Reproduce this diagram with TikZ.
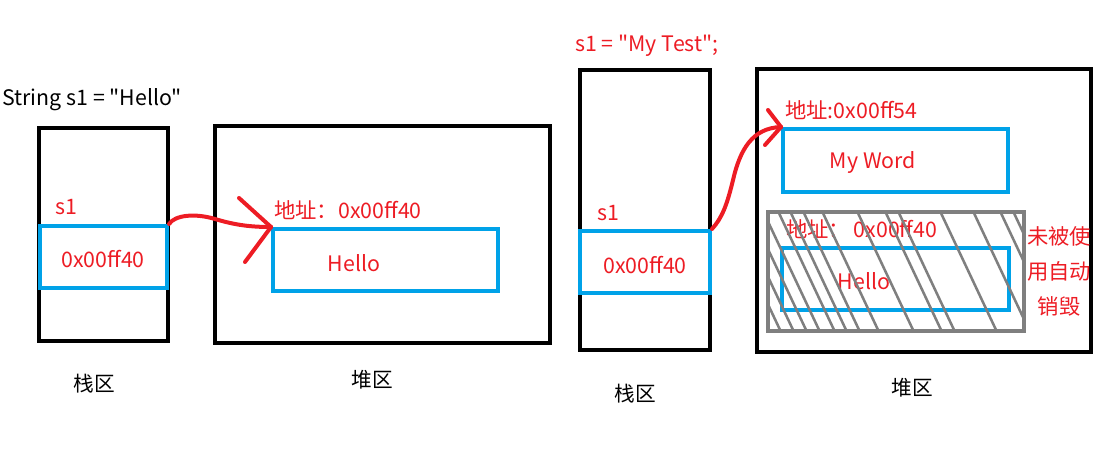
\documentclass[tikz,border=0pt]{standalone}
\usepackage{fontspec}
\setmainfont{Noto Sans CJK SC}[Ligatures=TeXOff]
\usetikzlibrary{fit}
\definecolor{pred}{HTML}{ED1C24}
\definecolor{pblue}{HTML}{00A2E8}
\definecolor{pgray}{HTML}{7F7F7F}
\begin{document}
\begin{tikzpicture}[x=0.75pt,y=-0.75pt,
  frame/.style={draw=black,line width=3pt,inner sep=0pt},
  cell/.style={draw=pblue,line width=3pt,inner sep=0pt},
  freed/.style={draw=pgray,line width=2.3pt,inner sep=0pt},
  hatch/.style={draw=pgray,line width=1.9pt},
  ptr/.style={draw=pred,line width=3pt,line cap=round,line join=round},
  redtxt/.style={text=pred,font=\fontsize{16}{19}\selectfont,inner sep=0pt},
  blktxt/.style={text=black,font=\fontsize{16}{19}\selectfont,inner sep=0pt},
  cjktxt/.style={font=\fontsize{15.5}{18}\selectfont,inner sep=0pt}]
\useasboundingbox (0,0) rectangle (1111,463);

% ---------- left: String s1 = "Hello" ----------
\node[blktxt,anchor=west] (code1) at (2,100) {String s1 = "Hello"};
\node[frame,fit={(39,128) (168,341)}] (stack1) {};
\node[frame,fit={(215,126) (550,343)}] (heap1) {};
\node[cell,fit={(40,226) (167,288)}] (ref1) {};
\node[cell,fit={(273,229) (498,291)}] (obj1) {};
\node[redtxt] (s1a) at (66,207) {s1};
\node[redtxt] (val1) at (103,259) {0x00ff40};
\node[redtxt,anchor=west] (addr1) at (274,210) {地址：0x00ff40};
\node[redtxt] (hello1) at (354,263) {Hello};
\node[cjktxt] (lbl1) at (94,384) {栈区};
\node[cjktxt] (lbl2) at (372,380) {堆区};

% pointer from the stack slot to the heap object
\draw[ptr] (ref1.north east) .. controls (175,215) and (195,213) .. (215,219)
  .. controls (235,225) and (250,227) .. (obj1.north west);
\draw[ptr] (obj1.north west) -- (239,198);
\draw[ptr] (obj1.north west) -- (245,262);

% ---------- right: s1 = "My Test"; ----------
\node[redtxt,anchor=west] (code2) at (575,46) {s1 = "My Test";};
\node[frame,fit={(580,70) (710,350)}] (stack2) {};
\node[frame,fit={(757,69) (1091,352)}] (heap2) {};
\node[cell,fit={(580,231) (710,293)}] (ref2) {};
\node[cell,fit={(783,129) (1008,192)}] (obj2) {};
\node[redtxt] (s1b) at (608,213) {s1};
\node[redtxt] (val2) at (645,265) {0x00ff40};
\node[redtxt,anchor=west] (addr2) at (785,110) {地址:0x00ff54};
\node[redtxt] (word) at (873,163) {My Word};

% the old object, no longer referenced
\node[freed,fit={(768,212) (1024,331)}] (old) {};
\node[cell,fit={(782,248) (1009,310)}] (obj3) {};
\node[redtxt,anchor=west] (addr3) at (786,229) {地址：\,0x00ff40};
\node[redtxt] (hello2) at (864,281) {Hello};
\begin{scope}
  \clip (old.north west) rectangle (old.south east);
  \foreach \t in {712,724,737,750,763,778,790,803,822,857,885,898,940,973,1000,1013,1022}
    \draw[hatch] (\t,211) -- (\t+57,332);
\end{scope}
\node[redtxt,align=center,anchor=north,font=\fontsize{16}{26.5}\selectfont] (note) at (1059,226) {未被使\\用自动\\销毁};

\node[cjktxt] (lbl3) at (635,394) {栈区};
\node[cjktxt] (lbl4) at (912,388) {堆区};

% pointer now aims at the new object
\draw[ptr] (ref2.north east) .. controls (722,218) and (727,205) .. (733,180)
  .. controls (740,150) and (752,128) .. (obj2.north west);
\draw[ptr] (obj2.north west) -- (768,110);
\draw[ptr] (obj2.north west) -- (765,145);
\end{tikzpicture}
\end{document}
